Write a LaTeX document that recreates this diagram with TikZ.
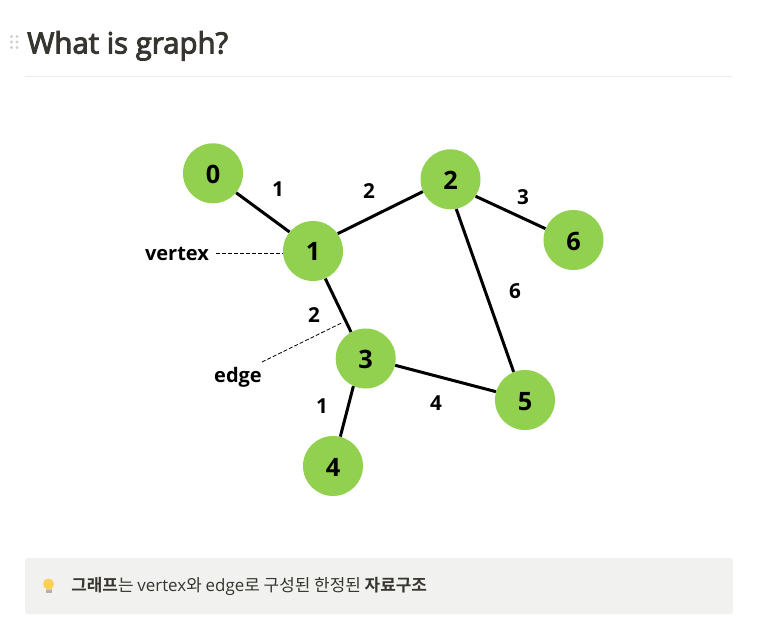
\documentclass[tikz,border=0pt]{standalone}
\usepackage{fontspec}
\setmainfont{Open Sans}
\newfontfamily\krfont{Noto Sans CJK KR}
\newfontfamily\krbold{Noto Sans CJK KR}[BoldFont={Noto Sans CJK KR Bold}]
\definecolor{vgreen}{HTML}{92D050}
\definecolor{titlec}{HTML}{37352F}
\definecolor{rulec}{HTML}{EDEDEC}
\definecolor{calloutbg}{HTML}{F1F1EF}
\definecolor{gripc}{HTML}{CFCFCD}
\definecolor{bulbc}{HTML}{FFCF5C}
\definecolor{bulbbase}{HTML}{A9B4BC}
\tikzset{
  vert/.style={circle,fill=vgreen,minimum size=45pt,inner sep=0pt,text height=15pt,text depth=0pt,font=\fontsize{19}{21}\selectfont\bfseries,text=black},
  edgeline/.style={line width=2.25pt,black},
  weight/.style={font=\fontsize{15.5}{17}\selectfont\bfseries,text=black,inner sep=0pt},
  callout/.style={font=\fontsize{15}{17}\selectfont\bfseries,text=black,inner sep=0pt},
  pointer/.style={line width=0.6pt,black,dash pattern=on 3pt off 1.5pt},
  grip/.style={circle,fill=gripc,minimum size=2.6pt,inner sep=0pt},
}
\begin{document}
\begin{tikzpicture}[x=0.75pt,y=-0.75pt]
\useasboundingbox (0,0) rectangle (758,642);
\fill[white] (0,0) rectangle (758,642);
% heading
\foreach \gx in {11.5,17}\foreach \gy in {36.5,42,47.5}{\node[grip] at (\gx,\gy) {};}
\node[anchor=base west,inner sep=0pt,text=titlec,font=\fontsize{22}{26}\selectfont] (title) at (27,53.5) {\special{pdf:code q 2 Tr 0.7 w}What is graph?\special{pdf:code 0 Tr Q}};
\coordinate (ruleL) at (25,76.5);
\coordinate (ruleR) at (733,76.5);
\draw[rulec,line width=0.75pt] (ruleL) -- (ruleR);
% vertices
\node[vert] (v0) at (213,173.3) {0};
\node[vert] (v1) at (313,251) {1};
\node[vert] (v2) at (450.5,179.3) {2};
\node[vert] (v3) at (365.7,358.5) {3};
\node[vert] (v4) at (333,466) {4};
\node[vert] (v5) at (525,400) {5};
\node[vert] (v6) at (573.5,240) {6};
% edges
\draw[edgeline] (v0.-40) -- (v1.141);
\draw[edgeline] (v1.35.6) -- (v2.204.2);
\draw[edgeline] (v1.-66.8) -- (v3.119);
\draw[edgeline] (v2.-34) -- (v6.158.8);
\draw[edgeline] (v2.-79.3) -- (v5.112.5);
\draw[edgeline] (v3.-13.5) -- (v5.164);
\draw[edgeline] (v3.246.3) -- (v4.76.6);
% weights
\node[weight] (w01) at (278,189.5) {1};
\node[weight] (w12) at (369,191.5) {2};
\node[weight] (w26) at (523,197) {3};
\node[weight] (w25) at (515,291) {6};
\node[weight] (w13) at (314,315) {2};
\node[weight] (w34) at (322,406) {1};
\node[weight] (w35) at (436,403) {4};
% labels
\node[callout] (vl) at (177,253.5) {vertex};
\node[callout] (el) at (238,377) {edge};
\coordinate (vS) at (216,253.5);
\coordinate (vT) at (283,253.5);
\coordinate (eS) at (262,362);
\coordinate (eT) at (342.5,322.5);
\draw[pointer] (vS) -- (vT);
\draw[pointer] (eS) -- (eT);
% callout
\node[draw=none,fill=calloutbg,rounded corners=2pt,minimum width=531pt,minimum height=42pt,inner sep=0pt] (box) at (379,586) {};
% bulb
\fill[bulbc] (48.5,584) circle (5.5);
\fill[bulbc] (45.5,586) rectangle (51.5,590);
\fill[bulbbase] (45.5,589.5) rectangle (51.5,593);
\node[anchor=west,inner sep=0pt,text=titlec,font=\fontsize{12.7}{15}\selectfont] (msg) at (71,586)
  {{\krbold\bfseries 그래프}{\krfont 는 }vertex{\krfont 와 }edge{\krfont 로 구성된 한정된 }{\krbold\bfseries 자료구조}};
\end{tikzpicture}
\end{document}
